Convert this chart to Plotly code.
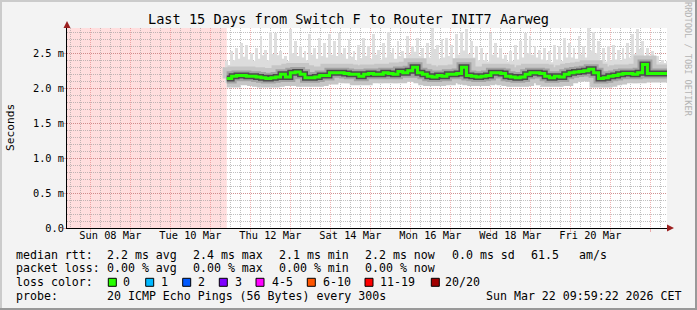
import plotly.graph_objects as go
import pandas as pd

# ---------------- data ----------------
title = "Last 15 Days from Switch F to Router INIT7 Aarweg"
now = pd.Timestamp("2026-03-22 09:59:22")
range_start = now - pd.Timedelta(days=15)
data_start = pd.Timestamp("2026-03-11 09:50")

# median rtt (ms)
median = [2.14, 2.17, 2.18, 2.18, 2.17, 2.17, 2.16, 2.15, 2.14, 2.15, 2.16, 2.20, 2.16, 2.22, 2.23, 2.20, 2.15, 2.15, 2.16, 2.18, 2.18, 2.22,
          2.22, 2.22, 2.21, 2.20, 2.20, 2.17, 2.20, 2.21, 2.20, 2.20, 2.22, 2.21, 2.20, 2.24, 2.22, 2.25, 2.30, 2.22, 2.20, 2.17, 2.16, 2.18, 2.17,
          2.20, 2.20, 2.21, 2.30, 2.18, 2.17, 2.16, 2.17, 2.18, 2.22, 2.22, 2.21, 2.17, 2.16, 2.15, 2.16, 2.20, 2.22, 2.22, 2.21, 2.17, 2.15, 2.17,
          2.16, 2.20, 2.22, 2.23, 2.24, 2.25, 2.27, 2.22, 2.14, 2.15, 2.17, 2.18, 2.20, 2.21, 2.21, 2.20, 2.22, 2.34, 2.21, 2.21, 2.21, 2.21, 2.20]
# highest ping of the 20 (ms)
smoke_max = [2.39, 2.53, 2.58, 2.65, 2.62, 2.50, 2.58, 2.74, 2.55, 2.81, 2.79, 2.53, 2.46, 2.84, 2.67, 2.60, 2.53, 2.77, 2.58, 2.72, 2.65, 2.77,
             2.67, 2.79, 2.58, 2.70, 2.53, 2.62, 2.72, 2.60, 2.77, 2.55, 2.65, 2.81, 2.58, 2.67, 2.53, 2.74, 2.60, 2.72, 2.58, 2.65, 2.86, 2.62, 2.70,
             2.72, 2.62, 2.77, 2.81, 2.84, 2.67, 2.60, 2.58, 2.50, 2.79, 2.65, 2.58, 2.48, 2.53, 2.62, 2.67, 2.79, 2.74, 2.60, 2.55, 2.58, 2.53, 2.62,
             2.60, 2.72, 2.65, 2.58, 2.74, 2.60, 2.86, 2.81, 2.67, 2.58, 2.60, 2.62, 2.55, 2.58, 2.65, 2.77, 2.84, 2.67, 2.58, 2.53, 2.46, 2.41, 2.39]
# upper edge of the continuous smoke (ms)
smoke_upper = [2.33, 2.40, 2.42, 2.45, 2.41, 2.39, 2.42, 2.47, 2.40, 2.49, 2.47, 2.42, 2.39, 2.50, 2.46, 2.44, 2.40, 2.48, 2.42, 2.46, 2.44, 2.48,
               2.46, 2.49, 2.42, 2.45, 2.40, 2.43, 2.46, 2.42, 2.48, 2.41, 2.44, 2.50, 2.42, 2.46, 2.42, 2.48, 2.52, 2.46, 2.42, 2.44, 2.56, 2.42, 2.44,
               2.46, 2.42, 2.48, 2.54, 2.49, 2.44, 2.40, 2.40, 2.38, 2.48, 2.44, 2.42, 2.38, 2.39, 2.41, 2.44, 2.50, 2.48, 2.44, 2.41, 2.40, 2.37, 2.41,
               2.39, 2.44, 2.44, 2.42, 2.48, 2.44, 2.54, 2.50, 2.40, 2.38, 2.40, 2.41, 2.40, 2.42, 2.44, 2.49, 2.56, 2.44, 2.40, 2.39, 2.37, 2.36, 2.35]
# lowest ping of the 20 (ms)
smoke_min = [2.07, 2.06, 2.07, 2.06, 2.06, 2.05, 2.06, 2.05, 2.04, 2.05, 2.05, 2.07, 2.05, 2.08, 2.09, 2.07, 2.04, 2.04, 2.05, 2.06, 2.07, 2.08,
             2.09, 2.08, 2.07, 2.07, 2.08, 2.06, 2.07, 2.08, 2.08, 2.07, 2.09, 2.08, 2.07, 2.09, 2.08, 2.09, 2.10, 2.07, 2.06, 2.05, 2.04, 2.06, 2.05,
             2.07, 2.08, 2.08, 2.10, 2.06, 2.05, 2.04, 2.05, 2.06, 2.08, 2.09, 2.08, 2.05, 2.04, 2.03, 2.04, 2.07, 2.09, 2.09, 2.08, 2.05, 2.03, 2.05,
             2.04, 2.07, 2.09, 2.10, 2.10, 2.11, 2.12, 2.09, 2.02, 2.03, 2.05, 2.06, 2.07, 2.08, 2.08, 2.07, 2.09, 2.14, 2.09, 2.09, 2.09, 2.09, 2.08]

times = pd.date_range(data_start, now, periods=len(median))

x_label_dates = ["2026-03-08 12:00", "2026-03-10 12:00", "2026-03-12 12:00", "2026-03-14 12:00",
                 "2026-03-16 12:00", "2026-03-18 12:00", "2026-03-20 12:00"]
x_label_text = ["Sun 08 Mar", "Tue 10 Mar", "Thu 12 Mar", "Sat 14 Mar", "Mon 16 Mar", "Wed 18 Mar", "Fri 20 Mar"]
y_tick_vals = [0.0, 0.5, 1.0, 1.5, 2.0, 2.5]
y_tick_text = ["0.0", "0.5 m", "1.0 m", "1.5 m", "2.0 m", "2.5 m"]
y_max = 2.861

rtt_stats = ["2.2 ms avg", "2.4 ms max", "2.1 ms min", "2.2 ms now", "0.0 ms sd", "61.5", "am/s"]
loss_stats = ["0.00 % avg", "0.00 % max", "0.00 % min", "0.00 % now"]
loss_labels = ["0", "1", "2", "3", "4-5", "6-10", "11-19", "20/20"]
loss_colors = ["#26ff00", "#00b8ff", "#0059ff", "#7e00ff", "#ff00ff", "#ff5500", "#ff0000", "#a10000"]
probe_text = "20 ICMP Echo Pings (56 Bytes) every 300s"
stamp_text = "Sun Mar 22 09:59:22 2026 CET"

# ---------------- layout geometry (pixels) ----------------
W, H = 697, 310
L, R, T, B = 67, 667, 28, 228
MONO = "DejaVu Sans Mono"


def px(x):
    return (x - L) / (R - L)


def py(y):
    return (B - y) / (B - T)


def nb(s):
    return s.replace(" ", "\u00a0")


def text_ann(s, x, y, size=11.6, color="#000000", anchor="left", angle=0):
    return dict(text=nb(s), x=px(x), y=py(y), xref="paper", yref="paper",
                xanchor=anchor, yanchor="middle", showarrow=False, textangle=angle,
                font=dict(family=MONO, size=size, color=color), borderpad=0, borderwidth=0)


fig = go.Figure()

# thin spikes up to the highest ping
spike_len = [mx - mn for mx, mn in zip(smoke_max, smoke_min)]
fig.add_trace(go.Bar(x=times, y=spike_len, base=smoke_min, width=1.7 * 3600000,
                     marker=dict(color="#dedede", line=dict(width=0)),
                     hoverinfo="skip", showlegend=False))
# continuous smoke band
fig.add_trace(go.Scatter(x=times, y=smoke_min, mode="lines", line=dict(width=0, shape="hv"),
                         hoverinfo="skip", showlegend=False))
fig.add_trace(go.Scatter(x=times, y=smoke_upper, mode="lines", line=dict(width=0, shape="hv"),
                         fill="tonexty", fillcolor="#dcdcdc", hoverinfo="skip", showlegend=False))
# denser smoke around the median
fig.add_trace(go.Scatter(x=times, y=median, mode="lines", line=dict(width=18, shape="hv", color="#c6c6c6"),
                         hoverinfo="skip", showlegend=False))
fig.add_trace(go.Scatter(x=times, y=median, mode="lines", line=dict(width=10, shape="hv", color="#a2a2a2"),
                         hoverinfo="skip", showlegend=False))
fig.add_trace(go.Scatter(x=times, y=median, mode="lines", line=dict(width=6, shape="hv", color="#4c4c4c"),
                         hoverinfo="skip", showlegend=False))
fig.add_trace(go.Scatter(x=times, y=median, mode="lines", line=dict(width=3, shape="hv", color=loss_colors[0]),
                         hoverinfo="skip", showlegend=False))
# dummy for label axis
fig.add_trace(go.Scatter(x=[range_start], y=[None], xaxis="x2", mode="markers",
                         hoverinfo="skip", showlegend=False))

GRID_GRAY = "rgba(150,150,150,0.6)"
GRID_RED = "rgba(225,100,100,0.5)"
DASH = "1px,1px"
ARROW = "#9c2020"

shapes = [
    # unknown-data region
    dict(type="rect", xref="x", yref="paper", x0=range_start, x1=times[0], y0=0, y1=1,
         fillcolor="#ffdede", line=dict(width=0), layer="below"),
    # frame shading
    dict(type="rect", xref="paper", yref="paper", x0=px(0), x1=px(W), y0=py(0), y1=py(2),
         fillcolor="#cbcbcb", line=dict(width=0), layer="below"),
    dict(type="rect", xref="paper", yref="paper", x0=px(0), x1=px(2), y0=py(0), y1=py(H),
         fillcolor="#cbcbcb", line=dict(width=0), layer="below"),
    dict(type="rect", xref="paper", yref="paper", x0=px(0), x1=px(W), y0=py(H - 2), y1=py(H),
         fillcolor="#999999", line=dict(width=0), layer="below"),
    dict(type="rect", xref="paper", yref="paper", x0=px(W - 2), x1=px(W), y0=py(0), y1=py(H),
         fillcolor="#999999", line=dict(width=0), layer="below"),
    # axis extensions and arrows
    dict(type="line", xref="paper", yref="paper", x0=px(67), x1=px(67), y0=py(28), y1=py(24),
         line=dict(width=1, color="#000000")),
    dict(type="path", xref="paper", yref="paper",
         path=f"M {px(63.5)} {py(28)} L {px(70.5)} {py(28)} L {px(67)} {py(21)} Z",
         fillcolor=ARROW, line=dict(width=0)),
    dict(type="line", xref="paper", yref="paper", x0=px(667), x1=px(669), y0=py(228), y1=py(228),
         line=dict(width=1, color="#000000")),
    dict(type="path", xref="paper", yref="paper",
         path=f"M {px(667)} {py(224.5)} L {px(667)} {py(231.5)} L {px(674)} {py(228)} Z",
         fillcolor=ARROW, line=dict(width=0)),
]

annotations = [
    text_ann("Seconds", 10, 128, size=11.2, angle=-90, anchor="center"),
    text_ann("RRDTOOL / TOBI OETIKER", 688, 59, size=8.6, color="#b4b4b4", angle=90, anchor="center"),
]

# legend rows
ROW1, ROW2, ROW3, ROW4 = 254.5, 268.3, 282.3, 296.2
annotations.append(text_ann("median rtt:", 16, ROW1))
for s, x in zip(rtt_stats, [107.3, 193.3, 279.3, 365, 451.7, 531, 579.3]):
    annotations.append(text_ann(s, x, ROW1))
annotations.append(text_ann("packet loss:", 16, ROW2))
for s, x in zip(loss_stats, [107.3, 193.3, 279.3, 365]):
    annotations.append(text_ann(s, x, ROW2))
annotations.append(text_ann("loss color:", 16, ROW3))
box_x = [108.3, 145.7, 182.7, 219.3, 256, 307.3, 365, 431.3]
lab_x = [123.3, 161, 197.7, 235, 271.7, 323.3, 380, 445]
for lab, col, bx, lx in zip(loss_labels, loss_colors, box_x, lab_x):
    shapes.append(dict(type="rect", xref="paper", yref="paper", x0=px(bx), x1=px(bx + 8),
                       y0=py(ROW3 - 4), y1=py(ROW3 + 4), fillcolor=col,
                       line=dict(width=1, color="#000000"), layer="above"))
    annotations.append(text_ann(lab, lx, ROW3))
annotations.append(text_ann("probe:", 16, ROW4))
annotations.append(text_ann(probe_text, 107.3, ROW4))
annotations.append(text_ann(stamp_text, 681, ROW4, anchor="right"))

fig.update_layout(
    width=W, height=H,
    margin=dict(l=L, r=W - R, t=T, b=H - B, pad=0),
    paper_bgcolor="#f3f3f3", plot_bgcolor="#ffffff",
    bargap=0, barmode="overlay",
    title=dict(text=title, x=348.5 / W, xref="container", xanchor="center",
               y=1 - 19.3 / H, yref="container", yanchor="middle",
               font=dict(family=MONO, size=13.6, color="#000000")),
    xaxis=dict(type="date", range=[range_start, now], tick0="2026-03-08", dtick=86400000,
               showgrid=True, gridcolor=GRID_RED, griddash=DASH, gridwidth=1,
               showticklabels=False, ticks="outside", ticklen=3, tickcolor=GRID_RED,
               minor=dict(tick0="2026-03-08", dtick=6 * 3600000, showgrid=True,
                          gridcolor=GRID_GRAY, griddash=DASH, gridwidth=1),
               showline=True, linecolor="#000000", linewidth=1, zeroline=False, fixedrange=True),
    xaxis2=dict(type="date", range=[range_start, now], overlaying="x", side="bottom",
                tickmode="array", tickvals=x_label_dates, ticktext=x_label_text,
                showgrid=False, ticks="", showline=False, zeroline=False,
                tickfont=dict(family=MONO, size=10.3, color="#000000")),
    yaxis=dict(range=[0, y_max], tickmode="array", tickvals=y_tick_vals, ticktext=y_tick_text,
               showgrid=True, gridcolor=GRID_RED, griddash=DASH, gridwidth=1,
               ticks="outside", ticklen=3, tickcolor=GRID_RED, ticklabelstandoff=-3,
               minor=dict(tick0=0, dtick=0.1, showgrid=True, gridcolor=GRID_GRAY, griddash=DASH, gridwidth=1),
               showline=True, linecolor="#000000", linewidth=1, zeroline=False,
               tickfont=dict(family=MONO, size=10.3, color="#000000")),
    shapes=shapes,
    annotations=annotations,
    showlegend=False,
)

fig.write_html("out.html")
